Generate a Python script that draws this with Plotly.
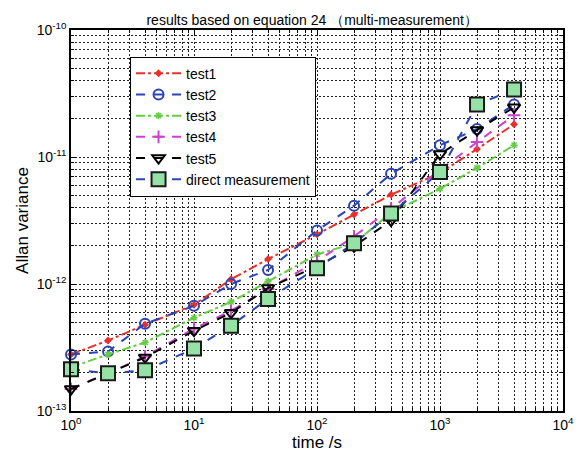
import plotly.graph_objects as go

# averaging time (s)
tau = [1, 2, 4, 10, 20, 40, 100, 200, 400, 1000, 2000, 4000]

test1 = [2.79e-13, 3.59e-13, 4.78e-13, 6.86e-13, 1.09e-12, 1.57e-12,
         2.46e-12, 3.52e-12, 5.05e-12, 7.50e-12, 1.155e-11, 1.81e-11]
test2 = [2.79e-13, 2.94e-13, 4.87e-13, 6.73e-13, 1.00e-12, 1.29e-12,
         2.64e-12, 4.14e-12, 7.37e-12, 1.24e-11, 1.66e-11, 2.59e-11]
test3 = [2.21e-13, 2.79e-13, 3.46e-13, 5.42e-13, 7.23e-13, 1.05e-12,
         1.71e-12, 2.09e-12, 3.65e-12, 5.62e-12, 8.20e-12, 1.24e-11]
test4 = [1.49e-13, 1.98e-13, 2.69e-13, 4.45e-13, 6.15e-13, 9.14e-13,
         1.51e-12, 2.37e-12, 3.92e-12, 7.91e-12, 1.31e-11, 2.13e-11]
test5 = [1.49e-13, 1.98e-13, 2.64e-13, 4.29e-13, 5.93e-13, 9.30e-13,
         1.38e-12, 1.98e-12, 3.16e-12, 1.055e-11, 1.63e-11, 2.46e-11]
direct = [2.13e-13, 1.98e-13, 2.09e-13, 3.10e-13, 4.70e-13, 7.63e-13,
          1.33e-12, 2.09e-12, 3.59e-12, 7.63e-12, 2.59e-11, 3.40e-11]

x_ticks = [1, 10, 100, 1000, 10000]
x_labels = ["10<sup>0</sup>", "10<sup>1</sup>", "10<sup>2</sup>", "10<sup>3</sup>", "10<sup>4</sup>"]
y_ticks = [1e-13, 1e-12, 1e-11, 1e-10]
y_labels = ["10<sup>-13</sup>", "10<sup>-12</sup>", "10<sup>-11</sup>", "10<sup>-10</sup>"]

series = [
    ("test1", test1, "#e8302a", "dashdot", dict(symbol="diamond", size=6, color="#e8302a")),
    ("test2", test2, "#2b44b8", "dash",
     dict(symbol="circle-open", size=10, color="#2b44b8", line=dict(width=2, color="#2b44b8"))),
    ("test3", test3, "#66cc44", "dashdot",
     dict(symbol="asterisk-open", size=6, color="#66cc44", line=dict(width=1.5, color="#66cc44"))),
    ("test4", test4, "#cc44cc", "dash",
     dict(symbol="cross-thin-open", size=9, color="#cc44cc", line=dict(width=2, color="#cc44cc"))),
    ("test5", test5, "black", "dash",
     dict(symbol="triangle-down-open", size=11, color="black", line=dict(width=2, color="black"))),
    ("direct measurement", direct, "#2b44b8", "dash",
     dict(symbol="square", size=14, color="#96e2a6", line=dict(width=2, color="#1a1a1a"))),
]

fig = go.Figure()
for name, vals, col, dash, mk in series:
    fig.add_trace(go.Scatter(
        x=tau, y=vals, name=name, mode="lines+markers",
        line=dict(color=col, dash=dash, width=2),
        marker=mk, cliponaxis=False,
    ))

grid = dict(showgrid=True, gridcolor="#222222", griddash="2px,2px", gridwidth=0.7)
fig.update_xaxes(
    type="log", range=[0, 4], tickvals=x_ticks, ticktext=x_labels,
    showline=True, linecolor="black", linewidth=1.5, mirror="ticks",
    ticks="inside", ticklen=5, tickcolor="black",
    minor=dict(dtick="D1", ticks="inside", ticklen=3, tickcolor="black", **grid),
    title=dict(text="time /s", font=dict(size=17), standoff=2),
    tickfont=dict(size=14), zeroline=False, **grid,
)
fig.update_yaxes(
    type="log", range=[-13, -10], tickvals=y_ticks, ticktext=y_labels,
    showline=True, linecolor="black", linewidth=1.5, mirror="ticks",
    ticks="inside", ticklen=5, tickcolor="black",
    minor=dict(dtick="D1", ticks="inside", ticklen=3, tickcolor="black", **grid),
    title=dict(text="Allan variance", font=dict(size=17), standoff=4),
    tickfont=dict(size=14), zeroline=False, **grid,
)
fig.update_layout(
    width=585, height=470,
    margin=dict(l=63, r=30, t=19, b=67),
    paper_bgcolor="white", plot_bgcolor="white",
    font=dict(family="Liberation Sans, Arial, sans-serif", color="black"),
    title=dict(text="results based on equation 24 （multi-measurement）",
               x=0.52, xanchor="center", y=0.985, yanchor="top", font=dict(size=14),
               pad=dict(t=0, b=0)),
    legend=dict(x=0.12, y=0.93, xanchor="left", yanchor="top",
                bgcolor="white", bordercolor="black", borderwidth=1,
                font=dict(size=14), tracegroupgap=0, itemwidth=45),
    showlegend=True,
)

fig.write_html("out.html")
